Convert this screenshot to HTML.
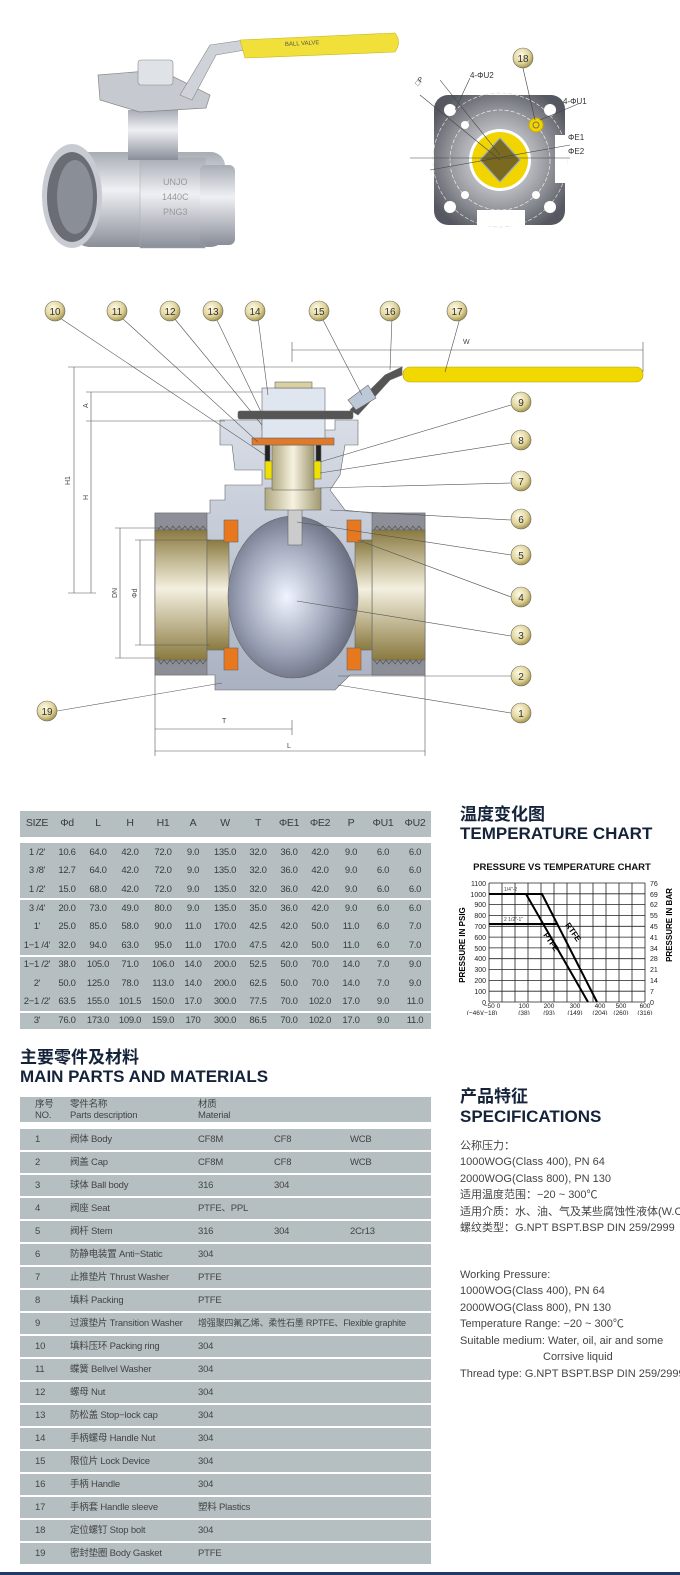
<!DOCTYPE html>
<html><head><meta charset="utf-8">
<style>
*{margin:0;padding:0;box-sizing:border-box}
body{width:680px;height:1575px;background:#fff;position:relative;overflow:hidden;font-family:"Liberation Sans","Noto Sans CJK SC",sans-serif;color:#333}
.a{position:absolute}
.bar{position:absolute;left:20px;width:411px;background:#b5bfc2}
.c{position:absolute;font-size:9.5px;line-height:11px;color:#3a3a3a;text-align:center;width:34px;margin-left:-17px;white-space:nowrap;letter-spacing:-0.3px}
.h{font-weight:bold;color:#15233a;font-size:17px;line-height:19px}
.p{position:absolute;font-size:9.5px;line-height:11px;color:#444;white-space:nowrap;letter-spacing:-0.2px}
.s{position:absolute;left:460px;font-size:11px;line-height:13px;color:#444;white-space:nowrap}
</style></head><body>

<svg class="a" style="left:0;top:0" width="680" height="790" viewBox="0 0 680 790">
<defs>
<radialGradient id="cg" cx="40%" cy="35%" r="70%"><stop offset="0" stop-color="#fffbe8"/><stop offset="0.6" stop-color="#e0d49a"/><stop offset="1" stop-color="#9a8a40"/></radialGradient>
<linearGradient id="brass" x1="0" y1="0" x2="0" y2="1"><stop offset="0" stop-color="#8a7a40"/><stop offset="0.45" stop-color="#f4f0e0"/><stop offset="1" stop-color="#8a7a40"/></linearGradient>
<radialGradient id="ball" cx="45%" cy="50%" r="60%"><stop offset="0" stop-color="#f0f4ff"/><stop offset="0.6" stop-color="#9aa0b4"/><stop offset="1" stop-color="#5a5f70"/></radialGradient>
<linearGradient id="body" x1="0" y1="0" x2="0" y2="1"><stop offset="0" stop-color="#d8dde6"/><stop offset="1" stop-color="#aab2c2"/></linearGradient>
<linearGradient id="steel" x1="0" y1="0" x2="0" y2="1"><stop offset="0" stop-color="#a8acb4"/><stop offset="0.4" stop-color="#eef0f4"/><stop offset="1" stop-color="#8a8e98"/></linearGradient>
<linearGradient id="stem" x1="0" y1="0" x2="1" y2="0"><stop offset="0" stop-color="#b0a880"/><stop offset="0.5" stop-color="#f6f2e0"/><stop offset="1" stop-color="#a09870"/></linearGradient>
<radialGradient id="fl" cx="50%" cy="50%" r="60%"><stop offset="0" stop-color="#f4f4f6"/><stop offset="0.6" stop-color="#9a9ca2"/><stop offset="1" stop-color="#555860"/></radialGradient>
</defs>

<!-- photo valve -->
<rect x="75" y="152" width="150" height="95" rx="14" fill="url(#steel)"/>
<rect x="140" y="158" width="65" height="90" fill="url(#steel)" stroke="#aaa" stroke-width="0.5"/>
<rect x="200" y="165" width="35" height="80" rx="6" fill="url(#steel)"/>
<ellipse cx="72" cy="196" rx="30" ry="52" fill="#c8ccd2"/>
<ellipse cx="72" cy="197" rx="25" ry="45" fill="#6a6d74"/>
<ellipse cx="75" cy="197" rx="18" ry="37" fill="#8a8e96"/>
<rect x="128" y="110" width="50" height="50" fill="url(#steel)"/>
<path d="M98 75 L160 70 L210 95 L206 108 L140 112 L100 100Z" fill="#c6cad0" stroke="#888" stroke-width="0.7"/>
<rect x="138" y="60" width="35" height="25" rx="3" fill="#dfe2e6" stroke="#888" stroke-width="0.6"/>
<path d="M180 95 L210 45 L245 40 L245 50 L216 55 L192 100Z" fill="#cfd2d8" stroke="#888" stroke-width="0.6"/>
<path d="M240 40 L395 33 Q402 42 395 52 L245 58Z" fill="#f2e03a" stroke="#c9b520" stroke-width="0.6"/>
<text x="285" y="46" font-size="6" fill="#555" transform="rotate(-3 285 46)">BALL VALVE</text>
<text x="163" y="185" font-size="9" fill="#999">UNJO</text>
<text x="162" y="200" font-size="9" fill="#999">1440C</text>
<text x="163" y="215" font-size="9" fill="#999">PNG3</text>

<!-- flange -->
<rect x="434" y="95" width="131" height="130" rx="14" fill="url(#fl)"/>
<circle cx="500" cy="160" r="67" fill="none" stroke="#ddd" stroke-dasharray="4 2" stroke-width="0.7"/>
<circle cx="500" cy="160" r="50" fill="none" stroke="#eee" stroke-dasharray="4 2" stroke-width="0.7"/>
<rect x="477" y="210" width="48" height="16" fill="#fff"/>
<rect x="555" y="135" width="12" height="48" fill="#fff"/>
<circle cx="450" cy="110" r="6" fill="#fff"/><circle cx="550" cy="110" r="6" fill="#fff"/><circle cx="450" cy="207" r="6" fill="#fff"/><circle cx="550" cy="207" r="6" fill="#fff"/>
<circle cx="465" cy="125" r="4" fill="#fff"/><circle cx="465" cy="195" r="4" fill="#fff"/><circle cx="536" cy="195" r="4" fill="#fff"/>
<circle cx="536" cy="125" r="7" fill="#f2d400" stroke="#caa800"/><circle cx="536" cy="125" r="3" fill="none" stroke="#775"/>
<circle cx="500" cy="160" r="31" fill="#fff"/>
<circle cx="500" cy="160" r="28" fill="#f2d400"/>
<path d="M500 138 L520 160 L500 182 L480 160Z" fill="#7a6a20" stroke="#9ac" stroke-width="1.2"/>
<line x1="410" y1="158" x2="570" y2="158" stroke="#444" stroke-width="0.6"/>
<line x1="430" y1="170" x2="570" y2="145" stroke="#444" stroke-width="0.6"/>
<line x1="420" y1="95" x2="500" y2="160" stroke="#444" stroke-width="0.6"/>
<line x1="440" y1="80" x2="500" y2="155" stroke="#444" stroke-width="0.6"/>
<line x1="522" y1="64" x2="535" y2="120" stroke="#444" stroke-width="0.6"/>
<line x1="540" y1="120" x2="578" y2="104" stroke="#444" stroke-width="0.6"/>
<line x1="470" y1="78" x2="455" y2="110" stroke="#444" stroke-width="0.6"/>
<text x="470" y="78" font-size="8" fill="#333">4-ΦU2</text>
<text x="563" y="104" font-size="8" fill="#333">4-ΦU1</text>
<text x="568" y="140" font-size="8" fill="#333">ΦE1</text>
<text x="568" y="154" font-size="8" fill="#333">ΦE2</text>
<text x="418" y="86" font-size="7" fill="#333" transform="rotate(-50 418 86)">□P</text>
<circle cx="523" cy="58" r="10" fill="url(#cg)" stroke="#666" stroke-width="0.6"/><text x="523" y="62" font-size="10" text-anchor="middle" fill="#333">18</text>

<!-- cross-section -->
<g stroke="#666" stroke-width="0.6">
<path d="M155 513 L210 513 L210 500 L225 500 L225 485 L262 485 L262 470 L235 470 L232 445 L220 445 L220 420 L262 420 L262 430 L335 430 L335 420 L358 420 L358 445 L345 445 L340 475 L330 490 L345 510 L370 513 L425 513 L425 675 L350 675 L335 690 L215 690 L215 675 L155 675Z" fill="url(#body)"/>
<path d="M155 513 L207 513 L207 675 L155 675Z" fill="#8d8f98"/>
<path d="M372 513 L425 513 L425 675 L372 675Z" fill="#8d8f98"/>
<rect x="155" y="530" width="52" height="130" fill="url(#brass)"/>
<rect x="207" y="540" width="22" height="110" fill="url(#brass)"/>
<rect x="372" y="530" width="53" height="130" fill="url(#brass)"/>
<rect x="355" y="540" width="17" height="110" fill="url(#brass)"/>
<ellipse cx="293" cy="597" rx="65" ry="81" fill="url(#ball)"/>
<rect x="224" y="520" width="14" height="22" fill="#e8781e"/><rect x="224" y="648" width="14" height="22" fill="#e8781e"/>
<rect x="347" y="520" width="14" height="22" fill="#e8781e"/><rect x="347" y="648" width="14" height="22" fill="#e8781e"/>
<rect x="288" y="505" width="14" height="40" fill="#ccc"/>
<rect x="265" y="488" width="56" height="22" fill="url(#stem)"/>
<rect x="272" y="445" width="42" height="45" fill="url(#stem)"/>
<rect x="265" y="461" width="7" height="18" fill="#f0e000"/><rect x="314" y="461" width="7" height="18" fill="#f0e000"/>
<rect x="265" y="445" width="5" height="16" fill="#222"/><rect x="316" y="445" width="5" height="16" fill="#222"/>
<rect x="252" y="438" width="82" height="7" fill="#e07a2a"/>
<rect x="262" y="418" width="63" height="20" fill="#dfe6f0"/>
<rect x="238" y="411" width="115" height="8" rx="2" fill="#555"/>
<rect x="262" y="388" width="63" height="23" fill="#dfe6f0"/>
<rect x="275" y="382" width="37" height="6" fill="#d8d0a0"/>
<path d="M350 410 L385 375 L402 367 L402 375 L390 380 L358 415Z" fill="#555"/>
<path d="M348 400 L368 385 L376 398 L356 410Z" fill="#bcc8d8"/>
<rect x="403" y="367" width="240" height="15" rx="7" fill="#f0d800" stroke="#b8a000"/>
</g>
<path d="M158 530 l3 -4 l3 4 l3 -4 l3 4 l3 -4 l3 4 l3 -4 l3 4 l3 -4 l3 4 l3 -4 l3 4 l3 -4 l3 4 l3 -4 l3 4" fill="none" stroke="#555" stroke-width="0.7"/>
<path d="M158 660 l3 4 l3 -4 l3 4 l3 -4 l3 4 l3 -4 l3 4 l3 -4 l3 4 l3 -4 l3 4 l3 -4 l3 4 l3 -4 l3 4 l3 -4" fill="none" stroke="#555" stroke-width="0.7"/>
<path d="M374 530 l3 -4 l3 4 l3 -4 l3 4 l3 -4 l3 4 l3 -4 l3 4 l3 -4 l3 4 l3 -4 l3 4 l3 -4 l3 4 l3 -4 l3 4" fill="none" stroke="#555" stroke-width="0.7"/>
<path d="M374 660 l3 4 l3 -4 l3 4 l3 -4 l3 4 l3 -4 l3 4 l3 -4 l3 4 l3 -4 l3 4 l3 -4 l3 4 l3 -4 l3 4 l3 -4" fill="none" stroke="#555" stroke-width="0.7"/>

<g stroke="#555" stroke-width="0.6" fill="none">
<line x1="292" y1="350" x2="643" y2="350"/><line x1="292" y1="342" x2="292" y2="362"/><line x1="643" y1="342" x2="643" y2="372"/>
<line x1="68" y1="367" x2="403" y2="367"/>
<line x1="74" y1="367" x2="74" y2="593"/><line x1="68" y1="593" x2="96" y2="593"/>
<line x1="86" y1="392" x2="262" y2="392"/><line x1="86" y1="421" x2="225" y2="421"/>
<line x1="91" y1="392" x2="91" y2="593"/>
<line x1="115" y1="528" x2="160" y2="528"/><line x1="115" y1="658" x2="160" y2="658"/>
<line x1="120" y1="528" x2="120" y2="658"/>
<line x1="135" y1="540" x2="210" y2="540"/><line x1="135" y1="645" x2="210" y2="645"/>
<line x1="140" y1="540" x2="140" y2="645"/>
<line x1="155" y1="675" x2="155" y2="756"/><line x1="425" y1="675" x2="425" y2="756"/><line x1="292" y1="720" x2="292" y2="735"/>
<line x1="155" y1="729" x2="292" y2="729"/><line x1="155" y1="751" x2="425" y2="751"/>
</g>
<g font-size="7" fill="#444">
<text x="463" y="344">W</text><text x="222" y="723">T</text><text x="287" y="748">L</text>
<text x="70" y="485" transform="rotate(-90 70 485)">H1</text><text x="88" y="500" transform="rotate(-90 88 500)">H</text>
<text x="88" y="408" transform="rotate(-90 88 408)">A</text>
<text x="117" y="598" transform="rotate(-90 117 598)">DN</text><text x="137" y="598" transform="rotate(-90 137 598)">Φd</text>
</g>
<g stroke="#555" stroke-width="0.6">
<line x1="60" y1="318" x2="265" y2="455"/><line x1="122" y1="318" x2="258" y2="442"/>
<line x1="174" y1="318" x2="262" y2="425"/><line x1="216" y1="318" x2="262" y2="414"/>
<line x1="258" y1="318" x2="268" y2="395"/><line x1="322" y1="318" x2="362" y2="395"/>
<line x1="392" y1="318" x2="390" y2="370"/><line x1="460" y1="318" x2="445" y2="372"/>
<line x1="511" y1="405" x2="320" y2="462"/><line x1="511" y1="443" x2="320" y2="473"/>
<line x1="511" y1="483" x2="320" y2="488"/><line x1="511" y1="520" x2="330" y2="510"/>
<line x1="511" y1="555" x2="297" y2="522"/><line x1="511" y1="597" x2="358" y2="540"/>
<line x1="511" y1="636" x2="297" y2="601"/><line x1="511" y1="676" x2="338" y2="676"/>
<line x1="511" y1="713" x2="338" y2="685"/><line x1="57" y1="711" x2="222" y2="683"/>
</g>
<g font-size="10" text-anchor="middle" fill="#333" stroke-width="0.6">
<circle cx="55" cy="311" r="10" fill="url(#cg)" stroke="#666"/><text x="55" y="315">10</text>
<circle cx="117" cy="311" r="10" fill="url(#cg)" stroke="#666"/><text x="117" y="315">11</text>
<circle cx="170" cy="311" r="10" fill="url(#cg)" stroke="#666"/><text x="170" y="315">12</text>
<circle cx="213" cy="311" r="10" fill="url(#cg)" stroke="#666"/><text x="213" y="315">13</text>
<circle cx="255" cy="311" r="10" fill="url(#cg)" stroke="#666"/><text x="255" y="315">14</text>
<circle cx="319" cy="311" r="10" fill="url(#cg)" stroke="#666"/><text x="319" y="315">15</text>
<circle cx="390" cy="311" r="10" fill="url(#cg)" stroke="#666"/><text x="390" y="315">16</text>
<circle cx="457" cy="311" r="10" fill="url(#cg)" stroke="#666"/><text x="457" y="315">17</text>
<circle cx="521" cy="402" r="10" fill="url(#cg)" stroke="#666"/><text x="521" y="406">9</text>
<circle cx="521" cy="440" r="10" fill="url(#cg)" stroke="#666"/><text x="521" y="444">8</text>
<circle cx="521" cy="481" r="10" fill="url(#cg)" stroke="#666"/><text x="521" y="485">7</text>
<circle cx="521" cy="519" r="10" fill="url(#cg)" stroke="#666"/><text x="521" y="523">6</text>
<circle cx="521" cy="555" r="10" fill="url(#cg)" stroke="#666"/><text x="521" y="559">5</text>
<circle cx="521" cy="597" r="10" fill="url(#cg)" stroke="#666"/><text x="521" y="601">4</text>
<circle cx="521" cy="635" r="10" fill="url(#cg)" stroke="#666"/><text x="521" y="639">3</text>
<circle cx="521" cy="676" r="10" fill="url(#cg)" stroke="#666"/><text x="521" y="680">2</text>
<circle cx="521" cy="713" r="10" fill="url(#cg)" stroke="#666"/><text x="521" y="717">1</text>
<circle cx="47" cy="711" r="10" fill="url(#cg)" stroke="#666"/><text x="47" y="715">19</text>
</g>
</svg>

<div class="bar" style="top:811px;height:26px"></div>
<div class="bar" style="top:843px;height:55px"></div>
<div class="bar" style="top:900px;height:55px"></div>
<div class="bar" style="top:957px;height:54px"></div>
<div class="bar" style="top:1013px;height:16px"></div>

<div class="a h" style="left:460px;top:805px">温度变化图</div>
<div class="a h" style="left:460px;top:824px">TEMPERATURE CHART</div>
<svg class="a" style="left:440px;top:855px" width="240" height="160" viewBox="440 855 240 160">
<text x="562" y="870" font-size="9.5" font-weight="bold" text-anchor="middle" fill="#111">PRESSURE VS TEMPERATURE CHART</text>
<g stroke="#222" stroke-width="0.8">
<line x1="489" y1="883" x2="645" y2="883"/><line x1="489" y1="893.8" x2="645" y2="893.8"/><line x1="489" y1="904.6" x2="645" y2="904.6"/><line x1="489" y1="915.5" x2="645" y2="915.5"/><line x1="489" y1="926.3" x2="645" y2="926.3"/><line x1="489" y1="937.1" x2="645" y2="937.1"/><line x1="489" y1="947.9" x2="645" y2="947.9"/><line x1="489" y1="958.7" x2="645" y2="958.7"/><line x1="489" y1="969.5" x2="645" y2="969.5"/><line x1="489" y1="980.4" x2="645" y2="980.4"/><line x1="489" y1="991.2" x2="645" y2="991.2"/><line x1="489" y1="1002" x2="645" y2="1002"/>
<line x1="489" y1="883" x2="489" y2="1002"/><line x1="502" y1="883" x2="502" y2="1002"/><line x1="515" y1="883" x2="515" y2="1002"/><line x1="528" y1="883" x2="528" y2="1002"/><line x1="541" y1="883" x2="541" y2="1002"/><line x1="554" y1="883" x2="554" y2="1002"/><line x1="567" y1="883" x2="567" y2="1002"/><line x1="580" y1="883" x2="580" y2="1002"/><line x1="593" y1="883" x2="593" y2="1002"/><line x1="606" y1="883" x2="606" y2="1002"/><line x1="619" y1="883" x2="619" y2="1002"/><line x1="632" y1="883" x2="632" y2="1002"/><line x1="645" y1="883" x2="645" y2="1002"/>
</g>
<g stroke="#000" stroke-width="2" fill="none">
<path d="M489 894 L542 894 L597 1002"/><path d="M526 894 L588 1002"/><path d="M489 924 L557 924"/>
</g>
<text x="504" y="891" font-size="5" fill="#444">1/4"-2</text><text x="504" y="921" font-size="5" fill="#444">2 1/2"-1"</text>
<text x="565" y="925" font-size="8" font-weight="bold" transform="rotate(55 565 925)">RTFE</text>
<text x="543" y="935" font-size="8" font-weight="bold" transform="rotate(55 543 935)">PTFE</text>
<g font-size="7" fill="#222" text-anchor="end">
<text x="486" y="886">1100</text><text x="486" y="897">1000</text><text x="486" y="907">900</text><text x="486" y="918">800</text><text x="486" y="929">700</text><text x="486" y="940">600</text><text x="486" y="951">500</text><text x="486" y="961">400</text><text x="486" y="972">300</text><text x="486" y="983">200</text><text x="486" y="994">100</text><text x="486" y="1005">0</text>
</g>
<g font-size="7" fill="#222">
<text x="650" y="886">76</text><text x="650" y="897">69</text><text x="650" y="907">62</text><text x="650" y="918">55</text><text x="650" y="929">45</text><text x="650" y="940">41</text><text x="650" y="951">34</text><text x="650" y="961">28</text><text x="650" y="972">21</text><text x="650" y="983">14</text><text x="650" y="994">7</text><text x="650" y="1005">0</text>
</g>
<g font-size="6.5" fill="#222" text-anchor="middle">
<text x="492" y="1008">−50 0</text><text x="524" y="1008">100</text><text x="549" y="1008">200</text><text x="575" y="1008">300</text><text x="600" y="1008">400</text><text x="621" y="1008">500</text><text x="645" y="1008">600</text>
<text x="482" y="1015">(−46)(−18)</text><text x="524" y="1015">(38)</text><text x="549" y="1015">(93)</text><text x="575" y="1015">(149)</text><text x="600" y="1015">(204)</text><text x="621" y="1015">(260)</text><text x="645" y="1015">(316)</text>
</g>
<text x="465" y="945" font-size="8" font-weight="bold" text-anchor="middle" transform="rotate(-90 465 945)">PRESSURE IN PSIG</text>
<text x="672" y="925" font-size="8" font-weight="bold" text-anchor="middle" transform="rotate(-90 672 925)">PRESSURE IN BAR</text>
</svg>

<div class="a h" style="left:20px;top:1048px">主要零件及材料</div>
<div class="a h" style="left:20px;top:1067px">MAIN PARTS AND MATERIALS</div>
<div class="bar" style="top:1097px;height:25px"></div>
<div class="p" style="left:35px;top:1099px">序号<br>NO.</div>
<div class="p" style="left:70px;top:1099px">零件名称<br>Parts description</div>
<div class="p" style="left:198px;top:1099px">材质<br>Material</div>

<div class="a h" style="left:460px;top:1087px">产品特征</div>
<div class="a h" style="left:460px;top:1107px">SPECIFICATIONS</div>
<div class="s" style="top:1140px">公称压力：</div>
<div class="s" style="top:1156px">1000WOG(Class 400), PN 64</div>
<div class="s" style="top:1173px">2000WOG(Class 800), PN 130</div>
<div class="s" style="top:1189px">适用温度范围：−20 ~ 300℃</div>
<div class="s" style="top:1206px">适用介质：水、油、气及某些腐蚀性液体(W.O.G)</div>
<div class="s" style="top:1222px">螺纹类型：G.NPT BSPT.BSP DIN 259/2999</div>
<div class="s" style="top:1269px">Working Pressure:</div>
<div class="s" style="top:1285px">1000WOG(Class 400), PN 64</div>
<div class="s" style="top:1302px">2000WOG(Class 800), PN 130</div>
<div class="s" style="top:1318px">Temperature Range: −20 ~ 300℃</div>
<div class="s" style="top:1335px">Suitable medium: Water, oil, air and some</div>
<div class="s" style="top:1351px;left:543px">Corrsive liquid</div>
<div class="s" style="top:1368px">Thread type: G.NPT BSPT.BSP DIN 259/2999</div>

<div class="a" style="left:0;top:1572px;width:680px;height:3px;background:#1e3a6a"></div>

<div class="c" style="left:37px;top:818px;font-size:10.5px">SIZE</div><div class="c" style="left:67px;top:818px;font-size:10.5px">Φd</div><div class="c" style="left:98px;top:818px;font-size:10.5px">L</div><div class="c" style="left:130px;top:818px;font-size:10.5px">H</div><div class="c" style="left:163px;top:818px;font-size:10.5px">H1</div><div class="c" style="left:193px;top:818px;font-size:10.5px">A</div><div class="c" style="left:225px;top:818px;font-size:10.5px">W</div><div class="c" style="left:258px;top:818px;font-size:10.5px">T</div><div class="c" style="left:289px;top:818px;font-size:10.5px">ΦE1</div><div class="c" style="left:320px;top:818px;font-size:10.5px">ΦE2</div><div class="c" style="left:351px;top:818px;font-size:10.5px">P</div><div class="c" style="left:383px;top:818px;font-size:10.5px">ΦU1</div><div class="c" style="left:415px;top:818px;font-size:10.5px">ΦU2</div>

<div class="c" style="left:37px;top:847px">1 /2'</div><div class="c" style="left:67px;top:847px">10.6</div><div class="c" style="left:98px;top:847px">64.0</div><div class="c" style="left:130px;top:847px">42.0</div><div class="c" style="left:163px;top:847px">72.0</div><div class="c" style="left:193px;top:847px">9.0</div><div class="c" style="left:225px;top:847px">135.0</div><div class="c" style="left:258px;top:847px">32.0</div><div class="c" style="left:289px;top:847px">36.0</div><div class="c" style="left:320px;top:847px">42.0</div><div class="c" style="left:351px;top:847px">9.0</div><div class="c" style="left:383px;top:847px">6.0</div><div class="c" style="left:415px;top:847px">6.0</div>
<div class="c" style="left:37px;top:865px">3 /8'</div><div class="c" style="left:67px;top:865px">12.7</div><div class="c" style="left:98px;top:865px">64.0</div><div class="c" style="left:130px;top:865px">42.0</div><div class="c" style="left:163px;top:865px">72.0</div><div class="c" style="left:193px;top:865px">9.0</div><div class="c" style="left:225px;top:865px">135.0</div><div class="c" style="left:258px;top:865px">32.0</div><div class="c" style="left:289px;top:865px">36.0</div><div class="c" style="left:320px;top:865px">42.0</div><div class="c" style="left:351px;top:865px">9.0</div><div class="c" style="left:383px;top:865px">6.0</div><div class="c" style="left:415px;top:865px">6.0</div>
<div class="c" style="left:37px;top:884px">1 /2'</div><div class="c" style="left:67px;top:884px">15.0</div><div class="c" style="left:98px;top:884px">68.0</div><div class="c" style="left:130px;top:884px">42.0</div><div class="c" style="left:163px;top:884px">72.0</div><div class="c" style="left:193px;top:884px">9.0</div><div class="c" style="left:225px;top:884px">135.0</div><div class="c" style="left:258px;top:884px">32.0</div><div class="c" style="left:289px;top:884px">36.0</div><div class="c" style="left:320px;top:884px">42.0</div><div class="c" style="left:351px;top:884px">9.0</div><div class="c" style="left:383px;top:884px">6.0</div><div class="c" style="left:415px;top:884px">6.0</div>
<div class="c" style="left:37px;top:903px">3 /4'</div><div class="c" style="left:67px;top:903px">20.0</div><div class="c" style="left:98px;top:903px">73.0</div><div class="c" style="left:130px;top:903px">49.0</div><div class="c" style="left:163px;top:903px">80.0</div><div class="c" style="left:193px;top:903px">9.0</div><div class="c" style="left:225px;top:903px">135.0</div><div class="c" style="left:258px;top:903px">35.0</div><div class="c" style="left:289px;top:903px">36.0</div><div class="c" style="left:320px;top:903px">42.0</div><div class="c" style="left:351px;top:903px">9.0</div><div class="c" style="left:383px;top:903px">6.0</div><div class="c" style="left:415px;top:903px">6.0</div>
<div class="c" style="left:37px;top:921px">1'</div><div class="c" style="left:67px;top:921px">25.0</div><div class="c" style="left:98px;top:921px">85.0</div><div class="c" style="left:130px;top:921px">58.0</div><div class="c" style="left:163px;top:921px">90.0</div><div class="c" style="left:193px;top:921px">11.0</div><div class="c" style="left:225px;top:921px">170.0</div><div class="c" style="left:258px;top:921px">42.5</div><div class="c" style="left:289px;top:921px">42.0</div><div class="c" style="left:320px;top:921px">50.0</div><div class="c" style="left:351px;top:921px">11.0</div><div class="c" style="left:383px;top:921px">6.0</div><div class="c" style="left:415px;top:921px">7.0</div>
<div class="c" style="left:37px;top:940px">1−1 /4'</div><div class="c" style="left:67px;top:940px">32.0</div><div class="c" style="left:98px;top:940px">94.0</div><div class="c" style="left:130px;top:940px">63.0</div><div class="c" style="left:163px;top:940px">95.0</div><div class="c" style="left:193px;top:940px">11.0</div><div class="c" style="left:225px;top:940px">170.0</div><div class="c" style="left:258px;top:940px">47.5</div><div class="c" style="left:289px;top:940px">42.0</div><div class="c" style="left:320px;top:940px">50.0</div><div class="c" style="left:351px;top:940px">11.0</div><div class="c" style="left:383px;top:940px">6.0</div><div class="c" style="left:415px;top:940px">7.0</div>
<div class="c" style="left:37px;top:959px">1−1 /2'</div><div class="c" style="left:67px;top:959px">38.0</div><div class="c" style="left:98px;top:959px">105.0</div><div class="c" style="left:130px;top:959px">71.0</div><div class="c" style="left:163px;top:959px">106.0</div><div class="c" style="left:193px;top:959px">14.0</div><div class="c" style="left:225px;top:959px">200.0</div><div class="c" style="left:258px;top:959px">52.5</div><div class="c" style="left:289px;top:959px">50.0</div><div class="c" style="left:320px;top:959px">70.0</div><div class="c" style="left:351px;top:959px">14.0</div><div class="c" style="left:383px;top:959px">7.0</div><div class="c" style="left:415px;top:959px">9.0</div>
<div class="c" style="left:37px;top:978px">2'</div><div class="c" style="left:67px;top:978px">50.0</div><div class="c" style="left:98px;top:978px">125.0</div><div class="c" style="left:130px;top:978px">78.0</div><div class="c" style="left:163px;top:978px">113.0</div><div class="c" style="left:193px;top:978px">14.0</div><div class="c" style="left:225px;top:978px">200.0</div><div class="c" style="left:258px;top:978px">62.5</div><div class="c" style="left:289px;top:978px">50.0</div><div class="c" style="left:320px;top:978px">70.0</div><div class="c" style="left:351px;top:978px">14.0</div><div class="c" style="left:383px;top:978px">7.0</div><div class="c" style="left:415px;top:978px">9.0</div>
<div class="c" style="left:37px;top:996px">2−1 /2'</div><div class="c" style="left:67px;top:996px">63.5</div><div class="c" style="left:98px;top:996px">155.0</div><div class="c" style="left:130px;top:996px">101.5</div><div class="c" style="left:163px;top:996px">150.0</div><div class="c" style="left:193px;top:996px">17.0</div><div class="c" style="left:225px;top:996px">300.0</div><div class="c" style="left:258px;top:996px">77.5</div><div class="c" style="left:289px;top:996px">70.0</div><div class="c" style="left:320px;top:996px">102.0</div><div class="c" style="left:351px;top:996px">17.0</div><div class="c" style="left:383px;top:996px">9.0</div><div class="c" style="left:415px;top:996px">11.0</div>
<div class="c" style="left:37px;top:1015px">3'</div><div class="c" style="left:67px;top:1015px">76.0</div><div class="c" style="left:98px;top:1015px">173.0</div><div class="c" style="left:130px;top:1015px">109.0</div><div class="c" style="left:163px;top:1015px">159.0</div><div class="c" style="left:193px;top:1015px">170</div><div class="c" style="left:225px;top:1015px">300.0</div><div class="c" style="left:258px;top:1015px">86.5</div><div class="c" style="left:289px;top:1015px">70.0</div><div class="c" style="left:320px;top:1015px">102.0</div><div class="c" style="left:351px;top:1015px">17.0</div><div class="c" style="left:383px;top:1015px">9.0</div><div class="c" style="left:415px;top:1015px">11.0</div>

<div class="bar" style="top:1129px;height:21px"></div><div class="p" style="left:35px;top:1134px">1</div><div class="p" style="left:70px;top:1134px">阀体 Body</div><div class="p" style="left:198px;top:1134px">CF8M</div><div class="p" style="left:274px;top:1134px">CF8</div><div class="p" style="left:350px;top:1134px">WCB</div>
<div class="bar" style="top:1152px;height:21px"></div><div class="p" style="left:35px;top:1157px">2</div><div class="p" style="left:70px;top:1157px">阀盖 Cap</div><div class="p" style="left:198px;top:1157px">CF8M</div><div class="p" style="left:274px;top:1157px">CF8</div><div class="p" style="left:350px;top:1157px">WCB</div>
<div class="bar" style="top:1175px;height:21px"></div><div class="p" style="left:35px;top:1180px">3</div><div class="p" style="left:70px;top:1180px">球体 Ball body</div><div class="p" style="left:198px;top:1180px">316</div><div class="p" style="left:274px;top:1180px">304</div>
<div class="bar" style="top:1198px;height:21px"></div><div class="p" style="left:35px;top:1203px">4</div><div class="p" style="left:70px;top:1203px">阀座 Seat</div><div class="p" style="left:198px;top:1203px">PTFE、PPL</div>
<div class="bar" style="top:1221px;height:21px"></div><div class="p" style="left:35px;top:1226px">5</div><div class="p" style="left:70px;top:1226px">阀杆 Stem</div><div class="p" style="left:198px;top:1226px">316</div><div class="p" style="left:274px;top:1226px">304</div><div class="p" style="left:350px;top:1226px">2Cr13</div>
<div class="bar" style="top:1244px;height:21px"></div><div class="p" style="left:35px;top:1249px">6</div><div class="p" style="left:70px;top:1249px">防静电装置 Anti−Static</div><div class="p" style="left:198px;top:1249px">304</div>
<div class="bar" style="top:1267px;height:21px"></div><div class="p" style="left:35px;top:1272px">7</div><div class="p" style="left:70px;top:1272px">止推垫片 Thrust Washer</div><div class="p" style="left:198px;top:1272px">PTFE</div>
<div class="bar" style="top:1290px;height:21px"></div><div class="p" style="left:35px;top:1295px">8</div><div class="p" style="left:70px;top:1295px">填料 Packing</div><div class="p" style="left:198px;top:1295px">PTFE</div>
<div class="bar" style="top:1313px;height:21px"></div><div class="p" style="left:35px;top:1318px">9</div><div class="p" style="left:70px;top:1318px">过渡垫片 Transition Washer</div><div class="p" style="left:198px;top:1318px;font-size:9px">增强聚四氟乙烯、柔性石墨 RPTFE、Flexible graphite</div>
<div class="bar" style="top:1336px;height:21px"></div><div class="p" style="left:35px;top:1341px">10</div><div class="p" style="left:70px;top:1341px">填料压环 Packing ring</div><div class="p" style="left:198px;top:1341px">304</div>
<div class="bar" style="top:1359px;height:21px"></div><div class="p" style="left:35px;top:1364px">11</div><div class="p" style="left:70px;top:1364px">蝶簧 Bellvel Washer</div><div class="p" style="left:198px;top:1364px">304</div>
<div class="bar" style="top:1382px;height:21px"></div><div class="p" style="left:35px;top:1387px">12</div><div class="p" style="left:70px;top:1387px">螺母 Nut</div><div class="p" style="left:198px;top:1387px">304</div>
<div class="bar" style="top:1405px;height:21px"></div><div class="p" style="left:35px;top:1410px">13</div><div class="p" style="left:70px;top:1410px">防松盖 Stop−lock cap</div><div class="p" style="left:198px;top:1410px">304</div>
<div class="bar" style="top:1428px;height:21px"></div><div class="p" style="left:35px;top:1433px">14</div><div class="p" style="left:70px;top:1433px">手柄螺母 Handle Nut</div><div class="p" style="left:198px;top:1433px">304</div>
<div class="bar" style="top:1451px;height:21px"></div><div class="p" style="left:35px;top:1456px">15</div><div class="p" style="left:70px;top:1456px">限位片 Lock Device</div><div class="p" style="left:198px;top:1456px">304</div>
<div class="bar" style="top:1474px;height:21px"></div><div class="p" style="left:35px;top:1479px">16</div><div class="p" style="left:70px;top:1479px">手柄 Handle</div><div class="p" style="left:198px;top:1479px">304</div>
<div class="bar" style="top:1497px;height:21px"></div><div class="p" style="left:35px;top:1502px">17</div><div class="p" style="left:70px;top:1502px">手柄套 Handle sleeve</div><div class="p" style="left:198px;top:1502px">塑料 Plastics</div>
<div class="bar" style="top:1520px;height:21px"></div><div class="p" style="left:35px;top:1525px">18</div><div class="p" style="left:70px;top:1525px">定位螺钉 Stop bolt</div><div class="p" style="left:198px;top:1525px">304</div>
<div class="bar" style="top:1543px;height:21px"></div><div class="p" style="left:35px;top:1548px">19</div><div class="p" style="left:70px;top:1548px">密封垫圈 Body Gasket</div><div class="p" style="left:198px;top:1548px">PTFE</div>
</body></html>
